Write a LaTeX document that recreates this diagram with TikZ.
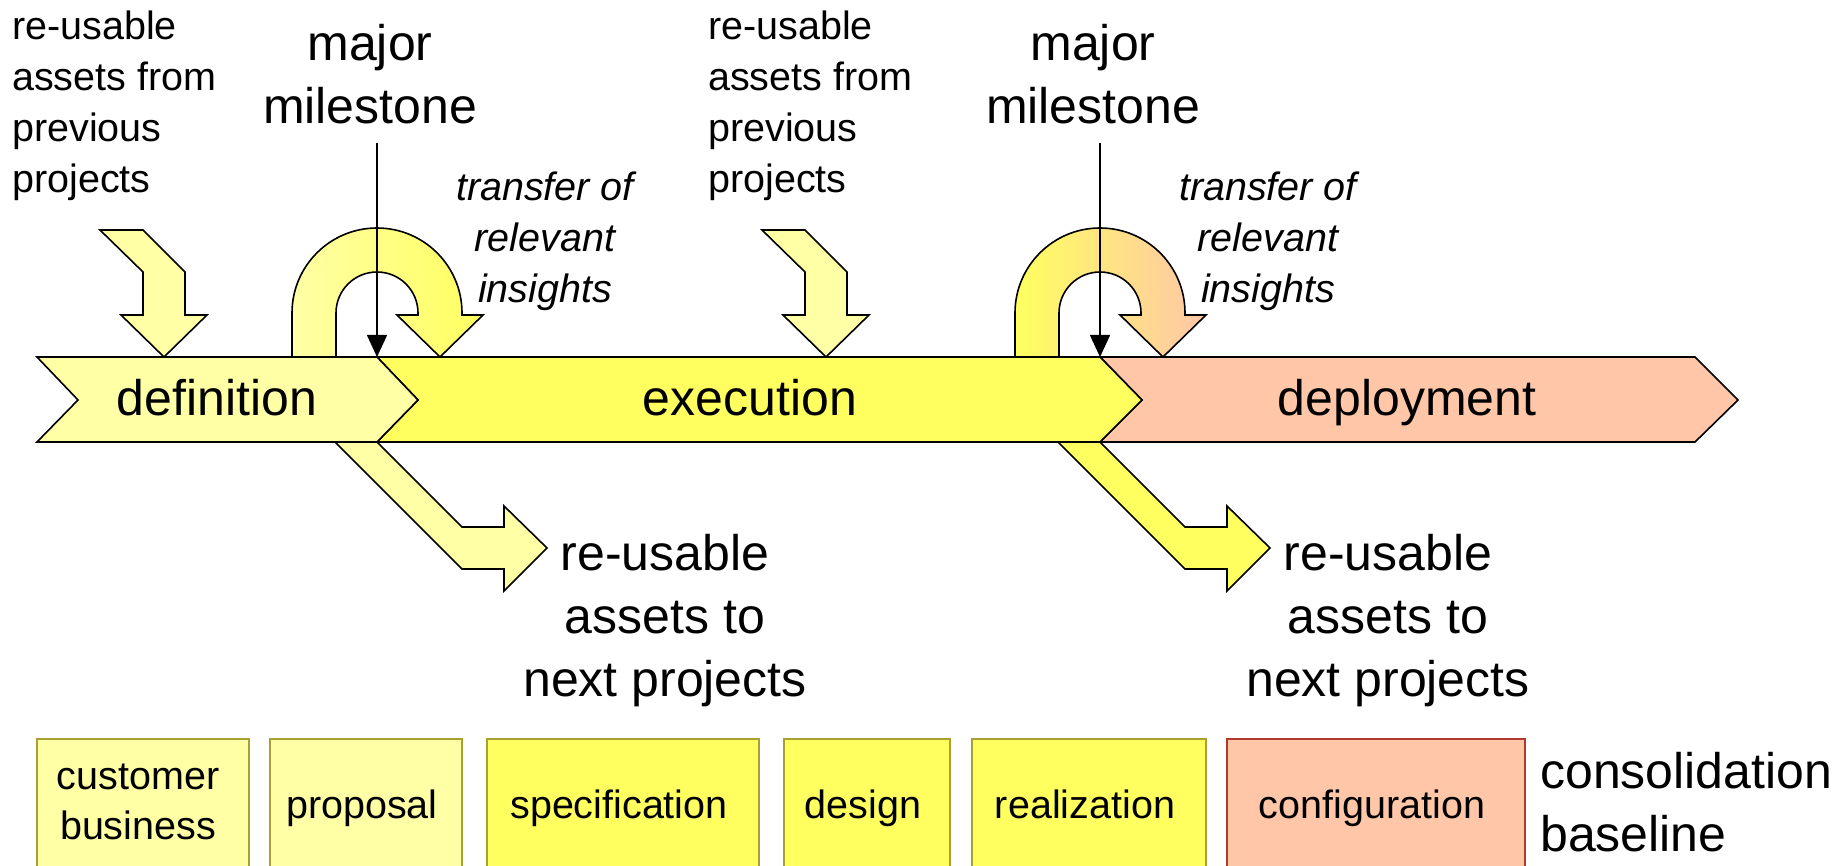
\documentclass[tikz,border=0pt]{standalone}
\usepackage{fontspec}
\setmainfont{Liberation Sans}
\usetikzlibrary{arrows.meta}
\definecolor{pale}{HTML}{FFFFA6}
\definecolor{bright}{HTML}{FFFF60}
\definecolor{peach}{HTML}{FFC6A8}
\definecolor{boxedge}{HTML}{A8A030}
\definecolor{rededge}{HTML}{B03A2E}
\begin{document}
\begin{tikzpicture}[x=1pt,y=-1pt,
  outl/.style={draw=black, line width=1.6pt, line join=miter},
  small/.style={font=\fontsize{39.5}{51}\selectfont, inner sep=0pt, execute at begin node={\rule{0pt}{40pt}}},
  big/.style={font=\fontsize{50}{63}\selectfont, inner sep=0pt, execute at begin node={\rule{0pt}{50pt}}},
  bandlbl/.style={font=\fontsize{50}{63}\selectfont, inner sep=0pt, anchor=base},
  boxbase/.style={draw=boxedge, line width=1.5pt, minimum height=138pt, inner sep=0pt, font=\fontsize{39.5}{50}\selectfont, align=center},
  box1l/.style={boxbase, text height=28pt, text depth=8pt, execute at begin node={\hspace*{-8pt}}},
  milestone/.style={line width=1.6pt, -{Triangle[length=22pt,width=20pt]}}
]
\useasboundingbox (0,0) rectangle (1842,866);
\fill[white] (0,0) rectangle (1842,866);
\clip (0,0) rectangle (1842,866);

% re-usable assets to next projects (outgoing arrows)
\path[outl, fill=pale] (335,442) -- (377,442) -- (462,527) -- (504,527) -- (504,506) -- (547,548) -- (504,591) -- (504,569) -- (462,569) -- cycle;
\begin{scope}[xshift=723pt]
\path[outl, fill=bright] (335,442) -- (377,442) -- (462,527) -- (504,527) -- (504,506) -- (547,548) -- (504,591) -- (504,569) -- (462,569) -- cycle;
\end{scope}

% phase band
\path[outl, fill=peach] (1100,357) -- (1695,357) -- (1738,400) -- (1695,442) -- (1100,442) -- (1142,400) -- cycle;
\path[outl, fill=bright] (377,357) -- (1100,357) -- (1142,400) -- (1100,442) -- (377,442) -- (418,400) -- cycle;
\path[outl, fill=pale] (37,357) -- (377,357) -- (418,400) -- (377,442) -- (37,442) -- (78,400) -- cycle;

\node[bandlbl] (def) at (217,415) {definition};
\node[bandlbl] (exe) at (750,415) {execution};
\node[bandlbl] (dep) at (1407,415) {deployment};

% incoming arrows
\path[outl, fill=pale] (100,230) -- (143,230) -- (185,272) -- (185,315) -- (207,315) -- (164,357) -- (121,315) -- (143,315) -- (143,272) -- cycle;
\begin{scope}[xshift=662pt]
\path[outl, fill=pale] (100,230) -- (143,230) -- (185,272) -- (185,315) -- (207,315) -- (164,357) -- (121,315) -- (143,315) -- (143,272) -- cycle;
\end{scope}

% transfer U-arrows
\path[outl, left color=pale, right color=bright] (292,357) -- (292,313) arc[start angle=180, end angle=360, radius=85] -- (462,315) -- (483,315) -- (440,357) -- (397,315) -- (418,315) -- (418,313) arc[start angle=0, end angle=-180, radius=41] -- (336,357) -- cycle;
\begin{scope}[xshift=723pt]
\path[outl, left color=bright, right color=peach] (292,357) -- (292,313) arc[start angle=180, end angle=360, radius=85] -- (462,315) -- (483,315) -- (440,357) -- (397,315) -- (418,315) -- (418,313) arc[start angle=0, end angle=-180, radius=41] -- (336,357) -- cycle;
\end{scope}

% milestones
\coordinate (m1top) at (377,143);
\coordinate (m1bot) at (377,357);
\coordinate (m2top) at (1100,143);
\coordinate (m2bot) at (1100,357);
\draw[milestone] (m1top) -- (m1bot);
\draw[milestone] (m2top) -- (m2bot);

% texts
\node[small, align=left, anchor=north west] (in1) at (12,11) {re-usable\\assets from\\previous\\projects};
\node[small, align=left, anchor=north west] (in2) at (708,11) {re-usable\\assets from\\previous\\projects};
\node[big, align=center, anchor=north] (ms1) at (370,24) {major\\milestone};
\node[big, align=center, anchor=north] (ms2) at (1093,24) {major\\milestone};
\node[small, font=\fontsize{39.5}{51}\selectfont\itshape, align=center, anchor=north] (tr1) at (545,172) {transfer of\\relevant\\insights};
\node[small, font=\fontsize{39.5}{51}\selectfont\itshape, align=center, anchor=north] (tr2) at (1268,172) {transfer of\\relevant\\insights};
\node[big, align=center, anchor=north] (out1) at (665,534) {re-usable\\assets to\\next projects};
\node[big, align=center, anchor=north] (out2) at (1388,534) {re-usable\\assets to\\next projects};

% bottom boxes
\node[boxbase, fill=pale, minimum width=212pt] (b1) at (143,808) {\hspace*{-10pt}customer\\\hspace*{-10pt}business\rule[-12pt]{0pt}{0pt}};
\node[box1l, fill=pale, minimum width=192pt] (b2) at (366,808) {proposal};
\node[box1l, fill=bright, minimum width=272pt] (b3) at (623,808) {specification};
\node[box1l, fill=bright, minimum width=166pt] (b4) at (867,808) {design};
\node[box1l, fill=bright, minimum width=234pt] (b5) at (1089,808) {realization};
\node[box1l, fill=peach, draw=rededge, minimum width=298pt] (b6) at (1376,808) {configuration};
\node[big, align=left, anchor=north west] (cons) at (1540,752) {consolidation\\baseline};
\end{tikzpicture}
\end{document}
